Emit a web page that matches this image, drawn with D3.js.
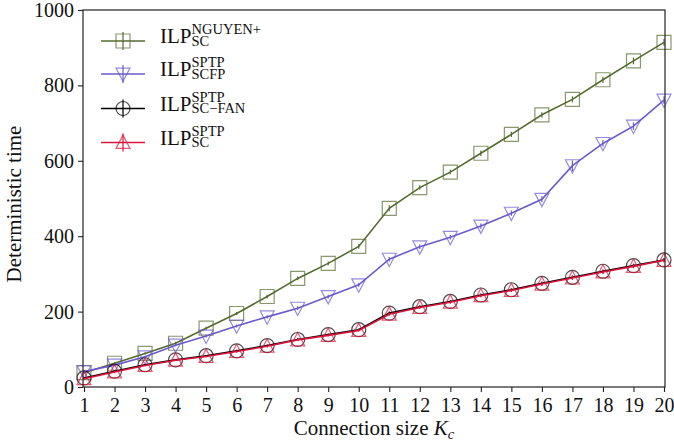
<!DOCTYPE html>
<html>
<head>
<meta charset="utf-8">
<script src="https://cdn.jsdelivr.net/npm/d3@7"></script>
<style>
  body { margin: 0; background: #fff; }
</style>
</head>
<body>
<svg id="chart" width="674" height="445"></svg>
<script>
// Connection sizes
const sizes = d3.range(1, 21);

// Deterministic time for each formulation
const nguyen = [38, 63, 89, 116, 156, 195, 240, 288, 328, 373, 474, 529, 570, 620, 670, 722, 763, 815, 865, 914];
const scfp   = [41, 58, 80, 111, 135, 162, 186, 209, 240, 271, 339, 372, 397, 427, 461, 498, 587, 646, 692, 761];
const scfan  = [24, 42, 59, 72, 83, 96, 110, 126, 139, 152, 196, 213, 227, 244, 258, 275, 291, 307, 322, 337];
const sc     = [22, 40, 57, 71, 81, 94, 108, 125, 137, 150, 193, 211, 225, 242, 256, 273, 289, 305, 320, 336];

// Half-width of the error bars
const nguyenErr = [3, 3, 3, 4, 4, 4, 5, 5, 5, 6, 8, 6, 6, 7, 7, 7, 8, 8, 9, 9];
const scfpErr   = [3, 3, 3, 3, 4, 4, 4, 5, 5, 5, 6, 6, 6, 7, 7, 8, 14, 9, 10, 10];
const scfanErr  = [2, 2, 2, 2, 2, 3, 3, 3, 3, 3, 4, 4, 4, 4, 4, 5, 5, 5, 5, 5];
const scErr     = [2, 2, 2, 2, 2, 3, 3, 3, 3, 3, 4, 4, 4, 4, 4, 5, 5, 5, 5, 5];

const yTicks = [0, 200, 400, 600, 800, 1000];

const series = [
  { sup: "NGUYEN+", sub: "SC", values: nguyen, err: nguyenErr, color: "#556b2f", marker: "square" },
  { sup: "SPTP", sub: "SCFP", values: scfp, err: scfpErr, color: "#6a5acd", marker: "tri-down" },
  { sup: "SPTP", sub: "SC\u2212FAN", values: scfan, err: scfanErr, color: "#000000", marker: "circle" },
  { sup: "SPTP", sub: "SC", values: sc, err: scErr, color: "#dc143c", marker: "tri-up" }
];

const FONT = "Liberation Serif";
const svg = d3.select("#chart").attr("font-family", FONT);
const pLeft = 83, pRight = 665, pTop = 10, pBottom = 387;

const x = d3.scaleLinear().domain([1, 20]).range([pLeft + 1, pRight - 1]);
const y = d3.scaleLinear().domain([0, 1000]).range([pBottom, pTop]);

// Marker outlines, drawn around the origin
function markerOutline(type, s) {
  const h = s / 2;
  if (type === "square") return `M${-h},${-h}H${h}V${h}H${-h}Z`;
  if (type === "tri-down") return `M${-h},${-h * 0.85}H${h}L0,${h * 1.05}Z`;
  if (type === "tri-up") return `M${-h},${h * 0.85}H${h}L0,${-h * 1.05}Z`;
  return `M${h},0A${h},${h} 0 1,1 ${-h},0A${h},${h} 0 1,1 ${h},0Z`;
}

const plot = svg.append("g");
const line = d3.line().x((d, i) => x(sizes[i])).y(d => y(d));

series.forEach(s => {
  const g = plot.append("g");
  g.append("path")
    .datum(s.values)
    .attr("d", line)
    .attr("fill", "none")
    .attr("stroke", s.color)
    .attr("stroke-width", 1.6);
  // error bars
  g.selectAll("line.err").data(s.values).join("line")
    .attr("x1", (d, i) => x(sizes[i])).attr("x2", (d, i) => x(sizes[i]))
    .attr("y1", (d, i) => y(d - s.err[i])).attr("y2", (d, i) => y(d + s.err[i]))
    .attr("stroke", s.color).attr("stroke-width", 1.2);
  // markers
  g.selectAll("path.mk").data(s.values).join("path")
    .attr("transform", (d, i) => `translate(${x(sizes[i])},${y(d)})`)
    .attr("d", markerOutline(s.marker, 14))
    .attr("fill", "none")
    .attr("stroke", s.color)
    .attr("stroke-opacity", 0.7)
    .attr("stroke-width", 1.2);
});

// Frame
svg.append("rect")
  .attr("x", pLeft).attr("y", pTop)
  .attr("width", pRight - pLeft).attr("height", pBottom - pTop)
  .attr("fill", "none").attr("stroke", "#222").attr("stroke-width", 1.2);

// Axes
const xAxis = d3.axisBottom(x).tickValues(sizes).tickFormat(d3.format("d"))
  .tickSize(5).tickSizeOuter(0).tickPadding(6);
const gx = svg.append("g").attr("transform", `translate(0,${pBottom})`).call(xAxis)
  .attr("font-family", FONT).attr("font-size", 20);
gx.select(".domain").remove();
gx.selectAll("line").attr("stroke", "#222").attr("stroke-width", 1.1);
gx.selectAll("text").attr("fill", "#111");

const yAxis = d3.axisLeft(y).tickValues(yTicks).tickFormat(d3.format("d"))
  .tickSize(5).tickSizeOuter(0).tickPadding(4);
const gy = svg.append("g").attr("transform", `translate(${pLeft},0)`).call(yAxis)
  .attr("font-family", FONT).attr("font-size", 20);
gy.select(".domain").remove();
gy.selectAll("line").attr("stroke", "#222").attr("stroke-width", 1.1);
gy.selectAll("text").attr("fill", "#111");

// Axis titles
const xt = svg.append("text")
  .attr("x", (pLeft + pRight) / 2).attr("y", 435)
  .attr("text-anchor", "middle").attr("font-size", 21).attr("fill", "#111");
xt.append("tspan").text("Connection size ");
xt.append("tspan").attr("font-style", "italic").text("K");
xt.append("tspan").attr("font-style", "italic").attr("font-size", 14.5).attr("dy", 4).text("c");

svg.append("text")
  .attr("transform", "translate(21,204) rotate(-90)")
  .attr("text-anchor", "middle").attr("font-size", 21).attr("fill", "#111")
  .text("Deterministic time");

// Legend
const legendRows = [41, 74, 108.5, 142.5];
series.forEach((s, i) => {
  const ly = legendRows[i];
  const g = svg.append("g").attr("transform", `translate(0,${ly})`).attr("fill", "#111");
  g.append("line").attr("x1", 101).attr("x2", 145).attr("y1", 0).attr("y2", 0)
    .attr("stroke", s.color).attr("stroke-width", 1.6);
  g.append("line").attr("x1", 123).attr("x2", 123).attr("y1", -9).attr("y2", 9)
    .attr("stroke", s.color).attr("stroke-width", 1.2);
  g.append("path").attr("transform", "translate(123,0)")
    .attr("d", markerOutline(s.marker, 14))
    .attr("fill", "none").attr("stroke", s.color).attr("stroke-opacity", 0.7).attr("stroke-width", 1.2);
  const supX = 160 + 31.5;
  const t = g.append("text").attr("x", 160).attr("y", 2);
  t.append("tspan").attr("font-size", 21).text("ILP");
  t.append("tspan").attr("x", supX).attr("dy", -9).attr("font-size", 14.5).text(s.sup);
  t.append("tspan").attr("x", supX).attr("dy", 11.5).attr("font-size", 14.5).text(s.sub);
});
</script>
</body>
</html>
